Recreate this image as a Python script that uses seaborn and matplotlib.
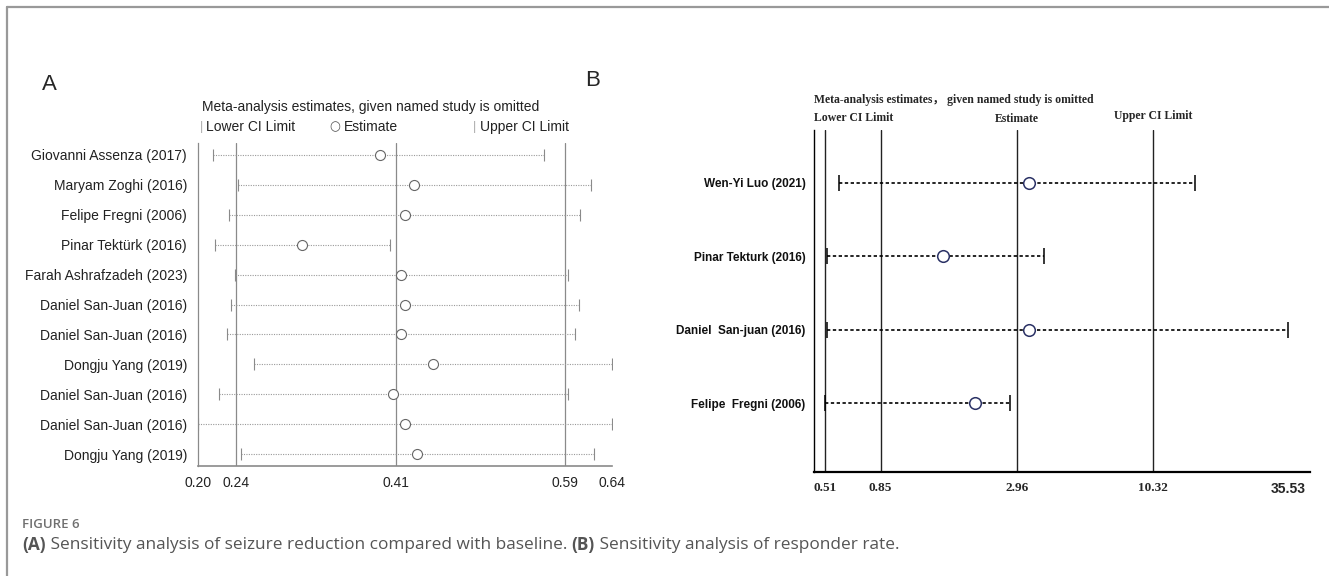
import numpy as np
import seaborn as sns
import matplotlib.pyplot as plt
from matplotlib.lines import Line2D

# ---- panel A : seizure reduction ----
studies_a = ["Giovanni Assenza (2017)", "Maryam Zoghi (2016)", "Felipe Fregni (2006)",
             "Pinar Tektürk (2016)", "Farah Ashrafzadeh (2023)", "Daniel San-Juan (2016)",
             "Daniel San-Juan (2016)", "Dongju Yang (2019)", "Daniel San-Juan (2016)",
             "Daniel San-Juan (2016)", "Dongju Yang (2019)"]
est_a = [0.393, 0.430, 0.420, 0.311, 0.416, 0.420, 0.416, 0.450, 0.407, 0.420, 0.433]
low_a = [0.216, 0.243, 0.233, 0.218, 0.239, 0.235, 0.231, 0.260, 0.222, 0.200, 0.246]
up_a = [0.568, 0.618, 0.606, 0.404, 0.593, 0.605, 0.601, 0.640, 0.593, 0.640, 0.621]
ticks_a = [0.20, 0.24, 0.41, 0.59, 0.64]
lines_a = [0.24, 0.41, 0.59]

# ---- panel B : responder rate ----
studies_b = ["Wen-Yi Luo (2021)", "Pinar Tekturk (2016)", "Daniel  San-juan (2016)",
             "Felipe  Fregni (2006)"]
est_b = [3.30, 1.51, 3.30, 2.01]
low_b = [0.58, 0.52, 0.52, 0.51]
up_b = [15.2, 3.81, 35.53, 2.79]
ticks_b = [0.51, 0.85, 2.96, 10.32, 35.53]
lines_b = [0.51, 0.85, 2.96, 10.32]

sns.set_style("white")
plt.rcParams['font.family'] = ['Liberation Sans', 'DejaVu Sans']

W, H = 1329, 576
fig = plt.figure(figsize=(W / 100, H / 100), dpi=100)

def box(x0, y0, x1, y1):
    return [x0 / W, 1 - y1 / H, (x1 - x0) / W, (y1 - y0) / H]

# frame around the figure
fig.add_artist(Line2D([7 / W, 1], [1 - 7 / H, 1 - 7 / H], color="#999999", lw=1.6))
fig.add_artist(Line2D([7 / W, 7 / W], [0, 1 - 7 / H], color="#999999", lw=1.6))

# ================= A =================
axa = fig.add_axes(box(198, 143, 612, 466))
ya = np.arange(len(studies_a))
g = "#8a8a8a"
axa.hlines(ya, low_a, up_a, color="#9a9a9a", lw=0.8, linestyles=(0, (1, 1.2)))
axa.plot(low_a, ya, ls="none", marker="|", ms=8, mew=0.8, color=g)
axa.plot(up_a, ya, ls="none", marker="|", ms=8, mew=0.8, color=g)
for v in lines_a:
    axa.axvline(v, color=g, lw=0.9, zorder=1)
sns.scatterplot(x=est_a, y=ya, ax=axa, s=52, facecolor="white", edgecolor="#666666",
                linewidth=0.8, zorder=5)
axa.set_xlim(0.20, 0.64)
axa.set_ylim(10.4, -0.4)
axa.set_xticks(ticks_a)
axa.set_xticklabels([f"{t:.2f}" for t in ticks_a], fontsize=10, color="#222222")
axa.set_yticks(ya)
axa.set_yticklabels(studies_a, fontsize=10, color="#222222")
axa.tick_params(axis="y", length=0, pad=8)
axa.tick_params(axis="x", length=4, width=0.8, color=g, pad=3)
for s in ["top", "right"]:
    axa.spines[s].set_visible(False)
axa.spines["left"].set_color(g)
axa.spines["left"].set_linewidth(0.9)
axa.spines["bottom"].set_color(g)
axa.spines["bottom"].set_linewidth(1.2)

axa.text(0.01, 1.111, "Meta-analysis estimates, given named study is omitted",
         transform=axa.transAxes, ha="left", va="center", fontsize=10, color="#222222")
axa.text(0.005, 1.05, "|", transform=axa.transAxes, ha="left", va="center",
         fontsize=9, color="#aaaaaa")
axa.text(0.02, 1.05, "Lower CI Limit", transform=axa.transAxes, ha="left", va="center",
         fontsize=10, color="#222222")
axa.text(0.318, 1.05, "○", transform=axa.transAxes, ha="left", va="center",
         fontsize=9, color="#555555", family=["DejaVu Sans"])
axa.text(0.352, 1.05, "Estimate", transform=axa.transAxes, ha="left", va="center",
         fontsize=10, color="#222222")
axa.text(0.665, 1.05, "|", transform=axa.transAxes, ha="left", va="center",
         fontsize=9, color="#aaaaaa")
axa.text(0.68, 1.05, "Upper CI Limit", transform=axa.transAxes, ha="left", va="center",
         fontsize=10, color="#222222")

# ================= B =================
axb = fig.add_axes(box(814, 130, 1310, 472))
yb = np.arange(len(studies_b))
axb.hlines(yb, low_b, up_b, color="black", lw=1.2, linestyles=(0, (2, 1.5)))
axb.plot(low_b, yb, ls="none", marker="|", ms=11, mew=1.1, color="black")
axb.plot(up_b, yb, ls="none", marker="|", ms=11, mew=1.1, color="black")
for v in lines_b:
    axb.axvline(v, color="#222222", lw=1.0, zorder=1)
sns.scatterplot(x=est_b, y=yb, ax=axb, s=70, facecolor="white", edgecolor="#2a3165",
                linewidth=1.1, zorder=5)
axb.set_xscale("log")
axb.set_xlim(0.462, 43.4)
axb.set_ylim(3.94, -0.72)
axb.minorticks_off()
axb.set_xticks(ticks_b)
axb.set_xticklabels([f"{t:.2f}" for t in ticks_b])
for lab in axb.get_xticklabels():
    lab.set_fontfamily(["Liberation Serif"])
    lab.set_fontweight("bold")
    lab.set_fontsize(9.5)
last = axb.get_xticklabels()[-1]
last.set_fontfamily(["Liberation Sans"])
last.set_fontsize(10)
axb.set_yticks(yb)
axb.set_yticklabels(studies_b, fontsize=8.5, fontweight="bold", color="#111111")
axb.tick_params(axis="y", length=0, pad=6)
axb.tick_params(axis="x", length=3, width=0.8, color="black", pad=4)
for s in ["top", "right"]:
    axb.spines[s].set_visible(False)
axb.spines["left"].set_color("black")
axb.spines["left"].set_linewidth(1.0)
axb.spines["bottom"].set_color("black")
axb.spines["bottom"].set_linewidth(1.6)

serif = ["Liberation Serif", "Noto Sans CJK SC"]
axb.text(0.0, 1.088, "Meta-analysis estimates， given named study is omitted",
         transform=axb.transAxes, ha="left", va="center", fontsize=8.5,
         fontweight="bold", family=serif)
axb.text(0.0, 1.035, "Lower CI Limit", transform=axb.transAxes, ha="left", va="center",
         fontsize=8.5, fontweight="bold", family=serif)
tb = axb.get_xaxis_transform()
axb.text(2.96, 1.033, "Estimate", transform=tb, ha="center", va="center",
         fontsize=8.5, fontweight="bold", family=serif)
axb.text(10.32, 1.04, "Upper CI Limit", transform=tb, ha="center", va="center",
         fontsize=8.5, fontweight="bold", family=serif)

# panel letters
fig.text(42 / W, 1 - 84 / H, "A", fontsize=16, va="center", ha="left")
fig.text(585 / W, 1 - 80 / H, "B", fontsize=16, va="center", ha="left")

# caption
cap = ["Open Sans", "DejaVu Sans"]
fig.text(22 / W, 1 - 524 / H, "FIGURE 6", fontsize=9.5, color="#707070",
         fontweight="semibold", family=cap, va="center")
renderer = fig.canvas.get_renderer()
parts = [("(A)", "bold"), (" Sensitivity analysis of seizure reduction compared with baseline. ", "normal"),
         ("(B)", "bold"), (" Sensitivity analysis of responder rate.", "normal")]
x = 22 / W
for txt, wt in parts:
    t = fig.text(x, 1 - 545 / H, txt, fontsize=12.4, color="#555555",
                 fontweight=wt, family=cap, va="center")
    bb = t.get_window_extent(renderer)
    x = bb.x1 / W

fig.savefig("out.png", dpi=100)
